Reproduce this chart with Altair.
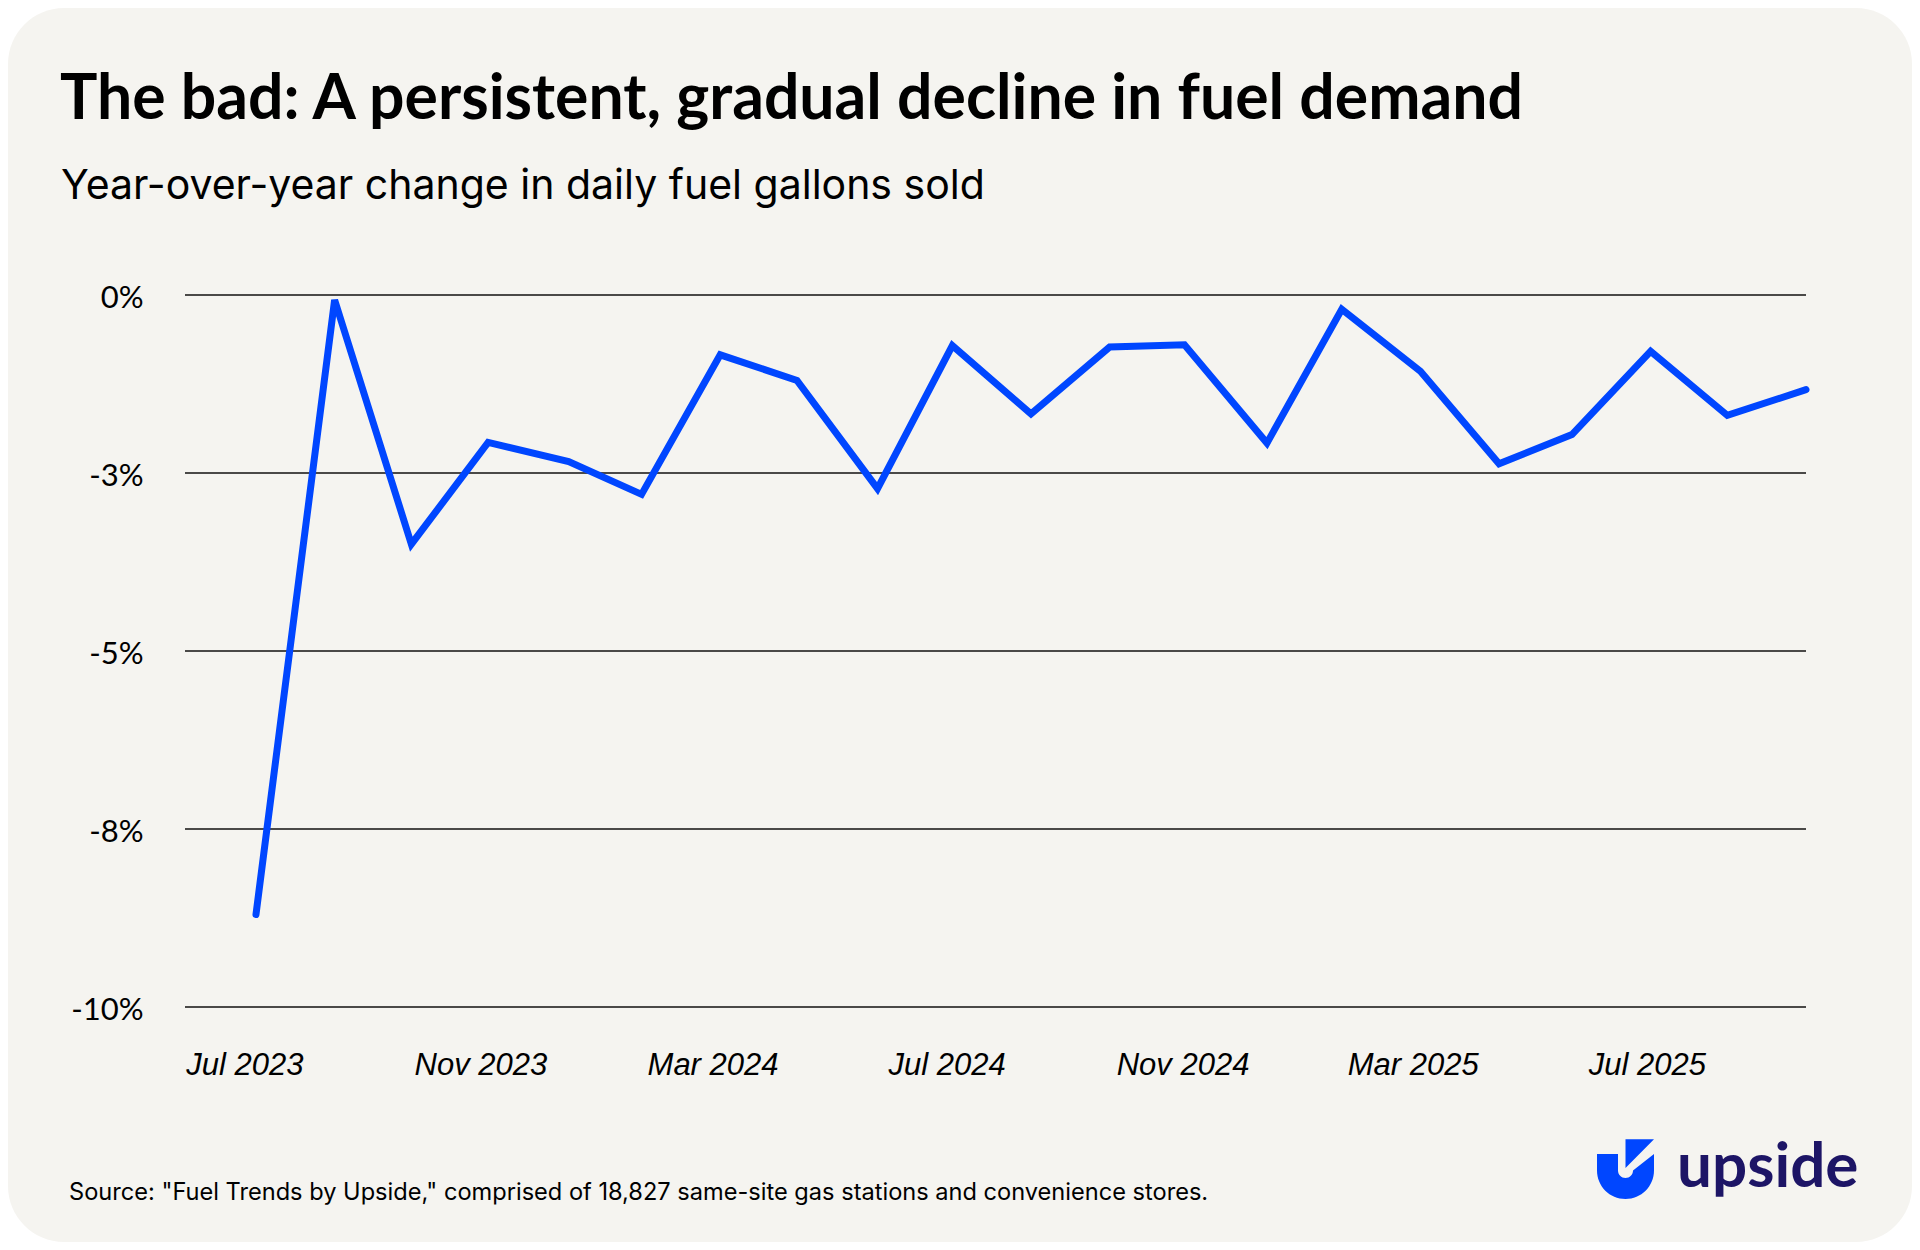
import altair as alt
import pandas as pd

# ---------------- data ----------------
dates = [
    "2023-07-07", "2023-08-17", "2023-09-26", "2023-11-05", "2023-12-17",
    "2024-01-24", "2024-03-05", "2024-04-14", "2024-05-26", "2024-07-04",
    "2024-08-14", "2024-09-24", "2024-11-02", "2024-12-15", "2025-01-23",
    "2025-03-05", "2025-04-15", "2025-05-23", "2025-07-03", "2025-08-12",
    "2025-09-22",
]
yoy_change = [
    -8.70, -0.07, -3.50, -2.07, -2.34,
    -2.80, -0.84, -1.20, -2.72, -0.71,
    -1.67, -0.73, -0.70, -2.08, -0.20,
    -1.07, -2.37, -1.96, -0.79, -1.69,
    -1.33,
]
x_domain = ["2023-05-31", "2025-09-22"]
x_tick_dates = ["2023-07-01", "2023-11-01", "2024-03-01", "2024-07-01",
                "2024-11-01", "2025-03-01", "2025-07-01"]
y_ticks = [0, -2.5, -5, -7.5, -10]
y_tick_labels = ["0%", "-3%", "-5%", "-8%", "-10%"]

title_text = "The bad: A persistent, gradual decline in fuel demand"
subtitle_text = "Year-over-year change in daily fuel gallons sold"
source_text = ('Source: "Fuel Trends by Upside," comprised of 18,827 same-site '
               'gas stations and convenience stores.')
brand_text = "upside"

# ---------------- styling ----------------
CARD = "#F5F4F0"
BLUE = "#0046FF"
NAVY = "#1D1566"
W, H = 1621, 712
PAD = {"left": 177, "top": 287, "right": 106, "bottom": 235}


def ms(d):
    return int(pd.Timestamp(d, tz="UTC").value // 10**6)


df = pd.DataFrame({"date": dates, "pct": yoy_change})
grid_df = pd.DataFrame({"pct": y_ticks})

x_scale = alt.Scale(type="utc", domain=[ms(d) for d in x_domain])
y_scale = alt.Scale(domain=[-10, 0], nice=False)

y_label_expr = "{}[indexof({}, datum.value)]".format(
    "[" + ",".join("'" + s + "'" for s in y_tick_labels) + "]",
    "[" + ",".join(str(v) for v in y_ticks) + "]",
)

x_axis = alt.Axis(
    values=[ms(d) for d in x_tick_dates],
    labelExpr="utcFormat(datum.value, '%b %Y')",
    title=None, grid=False, domain=False, ticks=False, tickSize=0,
    labelFont="Liberation Sans", labelFontStyle="italic", labelFontSize=31,
    labelColor="#000000", labelPadding=67, labelBaseline="alphabetic",
    labelAlign="center", labelOverlap=False, labelFlush=False, zindex=1,
)
y_axis = alt.Axis(
    values=y_ticks, labelExpr=y_label_expr,
    title=None, grid=False, domain=False, ticks=False, tickSize=0,
    labelFont="Lato", labelFontSize=31, labelColor="#000000",
    labelPadding=42, labelAlign="right", labelBaseline="alphabetic",
    labelOffset=12, labelOverlap=False, labelFlush=False, zindex=1,
)

one = pd.DataFrame({"k": [0]})

card = alt.Chart(one).mark_rect(color=CARD, cornerRadius=56).encode(
    x=alt.value(-PAD["left"]), x2=alt.value(W + PAD["right"]),
    y=alt.value(-PAD["top"]), y2=alt.value(H + PAD["bottom"]),
)

grid = alt.Chart(grid_df).mark_rule(color="#111111", strokeWidth=1.3).encode(
    y=alt.Y("pct:Q", scale=y_scale, axis=y_axis),
)

line = alt.Chart(df).mark_line(
    color=BLUE, strokeWidth=7, strokeCap="round", strokeJoin="miter"
).encode(
    x=alt.X("date:T", scale=x_scale, axis=x_axis),
    y=alt.Y("pct:Q", scale=y_scale, axis=y_axis),
)


def text_layer(txt, x, y, **kw):
    return alt.Chart(pd.DataFrame({"t": [txt]})).mark_text(
        align="left", baseline="alphabetic", **kw
    ).encode(text="t:N", x=alt.value(x), y=alt.value(y))


title = text_layer(title_text, -125, -176, font="Lato", fontSize=62.5,
                   fontWeight="bold", color="#000000")
subtitle = text_layer(subtitle_text, -124, -96, font="Inter", fontSize=41,
                      color="#000000")
source = text_layer(source_text, -116, 905, font="Inter", fontSize=23.6,
                    color="#000000")
brand = text_layer(brand_text, 1492, 892, font="Lato", fontSize=62,
                   fontWeight="bold", color=NAVY)

icon_path = ("M-0.95,-0.5 L-0.25,-0.5 L-0.25,0.05 A0.25,0.25 0 0 0 0.25,0.05 "
             "L0.95,-0.5 L0.95,0.05 A0.95,0.95 0 0 1 -0.95,0.05 Z "
             "M0.0,-0.99 L0.95,-0.99 L0.0,-0.03 Z")
icon = alt.Chart(one).mark_point(
    shape=icon_path, size=3600, filled=True, color=BLUE, opacity=1, strokeWidth=0
).encode(x=alt.value(1440.5), y=alt.value(874))

chart = alt.layer(card, grid, line, title, subtitle, source, brand, icon).properties(
    width=W, height=H, padding=PAD, autosize="none", background="white",
).configure_view(stroke="transparent")

chart.save("out.html", embed_options={"renderer": "svg", "actions": False})
